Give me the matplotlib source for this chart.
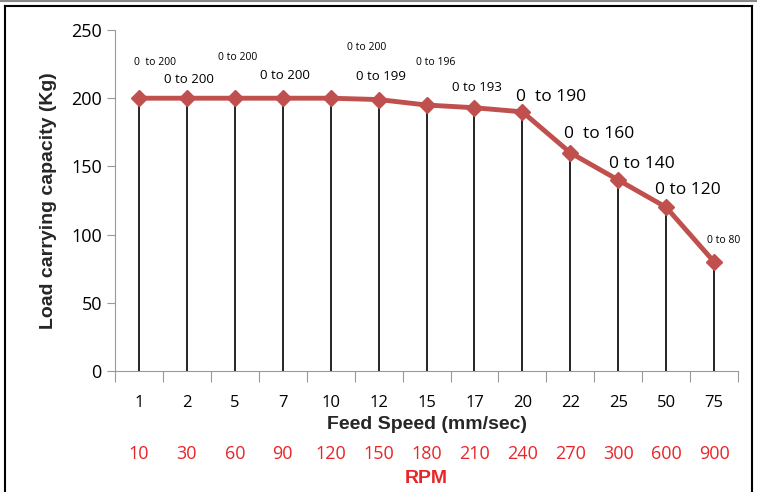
import matplotlib.pyplot as plt
from matplotlib.lines import Line2D

feed_speed = ['1', '2', '5', '7', '10', '12', '15', '17', '20', '22', '25', '50', '75']
rpm = ['10', '30', '60', '90', '120', '150', '180', '210', '240', '270', '300', '600', '900']
load = [200, 200, 200, 200, 200, 199, 195, 193, 190, 160, 140, 120, 80]
labels = ['0  to 200', '0 to 200', '0 to 200', '0 to 200', '0 to 200', '0 to 199',
          '0 to 196', '0 to 193', '0  to 190', '0  to 160', '0 to 140', '0 to 120', '0 to 80']
# label offsets (x in categories, y in data units) and font size
lab_dx = [0.33, 0.05, 0.05, 0.05, 0.75, 0.05, 0.2, 0.05, 0.6, 0.6, 0.5, 0.45, 0.2]
lab_y = [226, 214, 230, 217, 237, 216, 226, 208, 201, 174, 152, 133, 96]
lab_size = [7.5, 9.5, 7.5, 9.5, 7.5, 9.5, 7.5, 9.5, 12.5, 12.5, 12.5, 12.5, 7.5]

plt.rcParams['font.family'] = ['Open Sans', 'DejaVu Sans']

fig = plt.figure(figsize=(7.57, 4.92), dpi=100)
ax = fig.add_axes([0.152, 0.246, 0.823, 0.693])

x = list(range(len(load)))
ax.vlines(x, 0, load, color='black', lw=1.2, zorder=2)
ax.plot(x, load, color='#C0504D', lw=3.5, marker='D', markersize=8, zorder=3)

for i in x:
    ax.text(i + lab_dx[i], lab_y[i], labels[i], fontsize=lab_size[i], ha='center', va='center')

ax.set_xlim(-0.5, 12.5)
ax.set_ylim(0, 250)
ax.set_yticks([0, 50, 100, 150, 200, 250])
ax.tick_params(axis='y', labelsize=13, color='#999999', length=6)
ax.set_xticks([i + 0.5 for i in range(-1, 13)])
ax.set_xticklabels([])
ax.tick_params(axis='x', color='#999999', length=8)
ax.set_xticks(x, minor=True)
ax.set_xticklabels(feed_speed, minor=True, fontsize=12)
ax.tick_params(axis='x', which='minor', length=0, pad=17)

for s in ['top', 'right']:
    ax.spines[s].set_visible(False)
ax.spines['left'].set_color('#999999')
ax.spines['bottom'].set_color('#999999')

ax.set_ylabel('Load carrying capacity (Kg)', fontsize=14, fontweight='bold',
              family='Liberation Sans', color='#262626', labelpad=10)
ax.set_xlabel('Feed Speed (mm/sec)', fontsize=14, fontweight='bold',
              family='Liberation Sans', color='#262626', va='center')
ax.xaxis.set_label_coords(0.5, -0.158)

# secondary row of RPM labels
for i in x:
    ax.text(i, -61, rpm[i], fontsize=13, color='#E8262A', ha='center', va='center',
            clip_on=False)
ax.text(6, -79, 'RPM', fontsize=14, fontweight='bold', color='#E8262A',
        family='Liberation Sans', ha='center', va='center', clip_on=False)

# outer frame
W, H = 757, 492
fig.add_artist(Line2D([5 / W, 5 / W], [0, 1 - 6 / H], color='black', lw=1.5))
fig.add_artist(Line2D([5 / W, 752 / W], [1 - 6 / H, 1 - 6 / H], color='black', lw=1.5))
fig.add_artist(Line2D([752 / W, 752 / W], [0, 1 - 6 / H], color='black', lw=1.5))
fig.add_artist(Line2D([0, 1], [1 - 0.5 / H, 1 - 0.5 / H], color='#888888', lw=1.5))

fig.savefig('out.png', dpi=100)
